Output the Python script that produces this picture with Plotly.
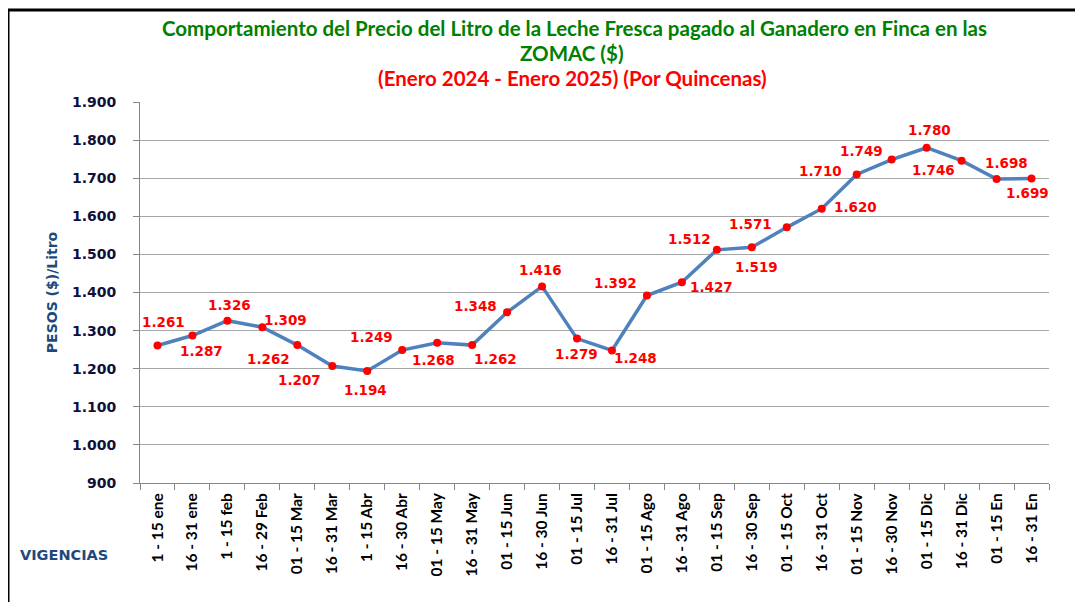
import plotly.graph_objects as go

categories = ["1 - 15 ene", "16 - 31 ene", "1 - 15 feb", "16 - 29 Feb", "01 - 15 Mar",
              "16 - 31 Mar", "1 - 15 Abr", "16 - 30 Abr", "01 - 15 May", "16 - 31 May",
              "01 - 15 Jun", "16 - 30 Jun", "01 - 15 Jul", "16 - 31 Jul", "01 - 15 Ago",
              "16 - 31 Ago", "01 - 15 Sep", "16 - 30 Sep", "01 - 15 Oct", "16 - 31 Oct",
              "01 - 15 Nov", "16 - 30 Nov", "01 - 15 Dic", "16 - 31 Dic", "01 - 15 En",
              "16 - 31 En"]
prices = [1261, 1287, 1326, 1309, 1262, 1207, 1194, 1249, 1268, 1262,
          1348, 1416, 1279, 1248, 1392, 1427, 1512, 1519, 1571, 1620,
          1710, 1749, 1780, 1746, 1698, 1699]
y_ticks = [900, 1000, 1100, 1200, 1300, 1400, 1500, 1600, 1700, 1800, 1900]

# label offsets in pixels (dx right, dy up)
label_offsets = [(6, 23), (9, -15), (2, 16), (23, 7), (-29, -14), (-33, -14), (-2, -19),
                 (-31, 13), (-4, -17), (23, -14), (-32, 6), (-2, 16), (-1, -15), (24, -8),
                 (-31, 13), (30, -5), (-27, 11), (5, -20), (-36, 3), (34, 2), (-36, 3),
                 (-30, 9), (3, 18), (-28, -9), (10, 16), (-4, -14)]


def fmt(v):
    return f"{v:,}".replace(",", ".")


# page is drawn with an 8px body margin; plot area in screen px: x 140..1049, y 102..483
OFF = 8
PL, PR, PT, PB = 140, 1049, 102, 483
W, H = 1083 - OFF, 602 - OFF


def px(x):
    return (x - PL) / (PR - PL)


def py(y):
    return (PB - y) / (PB - PT)


fig = go.Figure()
fig.add_trace(go.Scatter(
    x=categories, y=prices, mode="lines+markers",
    line=dict(color="#4f81bd", width=3.5),
    marker=dict(color="#ff0000", size=8),
    hoverinfo="x+y", showlegend=False,
))

annotations = []
for c, v, (dx, dy) in zip(categories, prices, label_offsets):
    annotations.append(dict(
        x=c, y=v, xref="x", yref="y", text=fmt(v), showarrow=False,
        xshift=dx, yshift=dy,
        font=dict(family="DejaVu Sans", size=13.5, color="#ff0000", weight="bold"),
    ))

title_font = "Lato"
annotations += [
    dict(text="<b>Comportamiento del Precio del Litro de la Leche Fresca pagado al Ganadero en Finca en las</b>",
         xref="paper", yref="paper", x=px(574), y=py(28), xanchor="center", yanchor="middle",
         showarrow=False, font=dict(family=title_font, size=20.5, color="#008000")),
    dict(text="<b>ZOMAC ($)</b>",
         xref="paper", yref="paper", x=px(572), y=py(53), xanchor="center", yanchor="middle",
         showarrow=False, font=dict(family=title_font, size=20.5, color="#008000")),
    dict(text="<b>(Enero 2024 - Enero 2025) (Por Quincenas)</b>",
         xref="paper", yref="paper", x=px(572), y=py(78), xanchor="center", yanchor="middle",
         showarrow=False, font=dict(family=title_font, size=20.5, color="#ff0000")),
    dict(text="<b>VIGENCIAS</b>",
         xref="paper", yref="paper", x=px(18), y=py(555), xanchor="left", yanchor="middle",
         showarrow=False, font=dict(family="DejaVu Sans", size=14.5, color="#1f497d")),
]

shapes = [
    dict(type="line", xref="paper", yref="paper",
         x0=px(8), x1=px(1100), y0=py(10), y1=py(10),
         line=dict(color="black", width=3)),
    dict(type="line", xref="paper", yref="paper",
         x0=px(8), x1=px(8), y0=py(9), y1=py(620),
         line=dict(color="black", width=3)),
]

fig.update_layout(
    width=W, height=H,
    margin=dict(l=PL - OFF, r=W - (PR - OFF), t=PT - OFF, b=H - (PB - OFF)),
    paper_bgcolor="white", plot_bgcolor="white",
    annotations=annotations, shapes=shapes,
    xaxis=dict(
        type="category", range=[-0.5, len(categories) - 0.5],
        showgrid=False, showline=True, linecolor="#868686", linewidth=1,
        ticks="outside", tickson="boundaries", ticklen=6, tickcolor="#868686",
        tickangle=-90, ticklabelstandoff=3,
        tickfont=dict(family="Lato", size=15.5, color="black", weight="bold"),
    ),
    yaxis=dict(
        range=[900, 1900], tickvals=y_ticks, ticktext=[fmt(v) for v in y_ticks],
        showgrid=True, gridcolor="#a6a6a6", gridwidth=1,
        showline=True, linecolor="#868686", linewidth=1,
        ticks="outside", ticklen=6, tickcolor="#868686", ticklabelstandoff=14,
        zeroline=False,
        tickfont=dict(family="DejaVu Sans", size=14, color="#10103a", weight="bold"),
        title=dict(text="PESOS ($)/Litro", standoff=11,
                   font=dict(family="DejaVu Sans", size=14, color="#1f497d", weight="bold")),
    ),
)

fig.write_html("out.html")
